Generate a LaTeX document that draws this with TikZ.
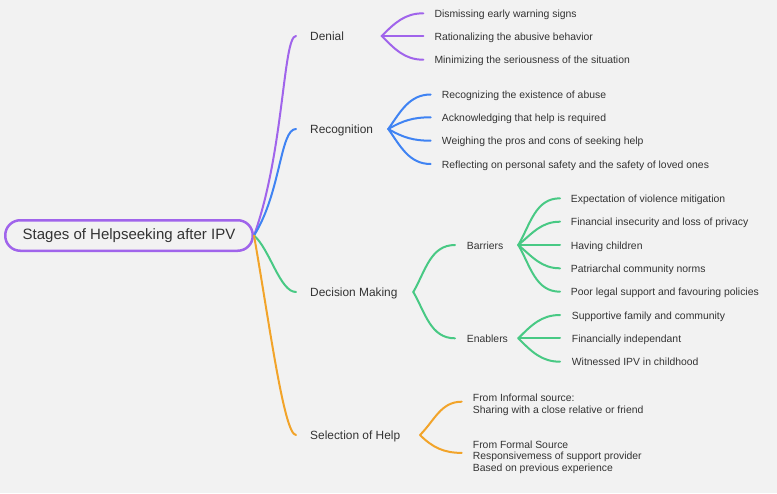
\documentclass[tikz,border=0pt]{standalone}
\usepackage{fontspec}
\setmainfont{Liberation Sans}
\definecolor{bgc}{HTML}{F2F2F2}
\definecolor{txt}{HTML}{333333}
\definecolor{cpur}{HTML}{A064EB}
\definecolor{cblu}{HTML}{3F83F3}
\definecolor{cgrn}{HTML}{48C984}
\definecolor{corg}{HTML}{F2A42A}
\begin{document}
\begin{tikzpicture}[x=1pt,y=-1pt,
  rootbox/.style={draw=cpur, line width=2.5pt, rounded corners=15pt, fill=bgc,
    minimum width=247.5pt, minimum height=30.5pt, inner sep=0pt, text=txt,
    font=\fontsize{15}{18}\selectfont},
  branch/.style={anchor=west, inner sep=0pt, text=txt, text height=11.5pt, text depth=2.5pt,
    font=\fontsize{11.9}{14}\selectfont},
  leaf/.style={anchor=west, inner sep=0pt, text=txt, text height=10.5pt, text depth=2.2pt,
    font=\fontsize{10.4}{12.5}\selectfont},
  block/.style={anchor=west, inner sep=0pt, text=txt, align=left,
    font=\fontsize{10.4}{11.4}\selectfont},
  link/.style={line width=2pt, line cap=round, fill=none}]
\fill[bgc] (0,0) rectangle (777,493);
\useasboundingbox (0,0) rectangle (777,493);

% root
\node[rootbox] (root) at (129,235.5) {Stages of Helpseeking after IPV};

% branches
\node[branch] (den) at (310,36) {Denial};
\node[branch] (rec) at (310,129) {Recognition};
\node[branch] (dec) at (310,292) {Decision Making};
\node[branch] (sel) at (310,435) {Selection of Help};

\draw[link,cpur] (root.east) .. controls +(30,-83) and +(-13,0) .. ([xshift=-14pt]den.west);
\draw[link,cblu] (root.east) .. controls +(27,-43) and +(-16,0) .. ([xshift=-14pt]rec.west);
\draw[link,cgrn] (root.east) .. controls +(16,14) and +(-16,0) .. ([xshift=-14pt]dec.west);
\draw[link,corg] (root.east) .. controls +(15,85) and +(-12,0) .. ([xshift=-14pt]sel.west);

% hubs
\coordinate (denhub) at (381.7,36);
\coordinate (rechub) at (388.3,129);
\coordinate (dechub) at (413.3,292);
\coordinate (barhub) at (518.3,245);
\coordinate (enahub) at (518.3,338.3);
\coordinate (selhub) at (420,435);

% Denial leaves
\node[leaf] (d1) at (434.3,13.3) {Dismissing early warning signs};
\node[leaf] (d2) at (434.3,36) {Rationalizing the abusive behavior};
\node[leaf] (d3) at (434.3,59.7) {Minimizing the seriousness of the situation};
\draw[link,cpur] (denhub) to[out=45,in=180] ([xshift=-11pt]d1.west);
\draw[link,cpur] (denhub) -- ([xshift=-11pt]d2.west);
\draw[link,cpur] (denhub) to[out=-45,in=180] ([xshift=-11pt]d3.west);

% Recognition leaves
\node[leaf] (r1) at (441.7,94.5) {Recognizing the existence of abuse};
\node[leaf] (r2) at (441.7,117.3) {Acknowledging that help is required};
\node[leaf] (r3) at (441.7,140.7) {Weighing the pros and cons of seeking help};
\node[leaf] (r4) at (441.7,164) {Reflecting on personal safety and the safety of loved ones};
\draw[link,cblu] (rechub) to[out=55,in=180] ([xshift=-11pt]r1.west);
\draw[link,cblu] (rechub) to[out=30,in=180] ([xshift=-11pt]r2.west);
\draw[link,cblu] (rechub) to[out=-30,in=180] ([xshift=-11pt]r3.west);
\draw[link,cblu] (rechub) to[out=-55,in=180] ([xshift=-11pt]r4.west);

% Decision Making
\node[leaf] (bar) at (466.7,245) {Barriers};
\node[leaf] (ena) at (466.7,338.3) {Enablers};
\draw[link,cgrn] (dechub) to[out=60,in=180] ([xshift=-11.7pt]bar.west);
\draw[link,cgrn] (dechub) to[out=-60,in=180] ([xshift=-11.7pt]ena.west);

\node[leaf] (b1) at (570.7,198.3) {Expectation of violence mitigation};
\node[leaf] (b2) at (570.7,221.7) {Financial insecurity and loss of privacy};
\node[leaf] (b3) at (570.7,245) {Having children};
\node[leaf] (b4) at (570.7,268.3) {Patriarchal community norms};
\node[leaf] (b5) at (570.7,291.7) {Poor legal support and favouring policies};
\draw[link,cgrn] (barhub) to[out=60,in=180] ([xshift=-10.7pt]b1.west);
\draw[link,cgrn] (barhub) to[out=40,in=180] ([xshift=-10.7pt]b2.west);
\draw[link,cgrn] (barhub) -- ([xshift=-10.7pt]b3.west);
\draw[link,cgrn] (barhub) to[out=-40,in=180] ([xshift=-10.7pt]b4.west);
\draw[link,cgrn] (barhub) to[out=-60,in=180] ([xshift=-10.7pt]b5.west);

\node[leaf] (e1) at (571.7,315) {Supportive family and community};
\node[leaf] (e2) at (571.7,338.3) {Financially independant};
\node[leaf] (e3) at (571.7,361.7) {Witnessed IPV in childhood};
\draw[link,cgrn] (enahub) to[out=45,in=180] ([xshift=-11.7pt]e1.west);
\draw[link,cgrn] (enahub) -- ([xshift=-11.7pt]e2.west);
\draw[link,cgrn] (enahub) to[out=-45,in=180] ([xshift=-11.7pt]e3.west);

% Selection of Help
\node[block] (s1) at (472.7,405) {From Informal source:\\Sharing with a close relative or friend};
\node[block] (s2) at (472.7,457.2) {From Formal Source\\Responsivemess of support provider\\Based on previous experience};
\coordinate (s1end) at ([xshift=-11pt,yshift=3.3pt]s1.west);
\coordinate (s2end) at ([xshift=-11pt,yshift=4.3pt]s2.west);
\draw[link,corg] (selhub) to[out=45,in=180] (s1end);
\draw[link,corg] (selhub) to[out=-45,in=180] (s2end);
\end{tikzpicture}
\end{document}
